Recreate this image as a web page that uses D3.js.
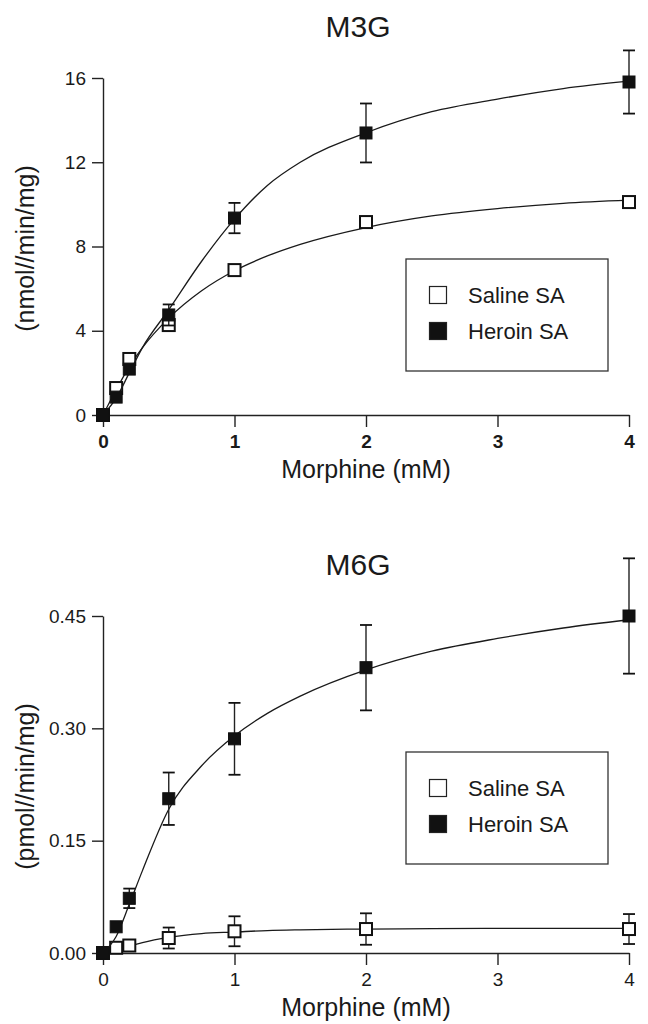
<!DOCTYPE html>
<html>
<head>
<meta charset="utf-8">
<script src="https://cdn.jsdelivr.net/npm/d3@7"></script>
<style>
  body { margin: 0; background: #fff; }
  svg { display: block; font-family: "Liberation Sans", Arial, Helvetica, sans-serif; }
  .axis path, .axis line { stroke: #222; stroke-width: 1.4; }
  .axis text { fill: #1a1a1a; font-size: 19px; }
</style>
</head>
<body>
<svg id="chart" width="648" height="1024"></svg>
<script>
// morphine concentrations (mM)
var doses = [0, 0.1, 0.2, 0.5, 1, 2, 4];
var xTicks = [0, 1, 2, 3, 4];
var seriesNames = ['Saline SA', 'Heroin SA'];

// M3G (nmol/min/mg), means and SEM
var m3gSaline = [0, 1.28, 2.66, 4.27, 6.88, 9.16, 10.11];
var m3gSalineErr = [0, 0, 0, 0.15, 0, 0, 0];
var m3gHeroin = [0, 0.85, 2.18, 4.75, 9.35, 13.39, 15.81];
var m3gHeroinErr = [0, 0, 0, 0.5, 0.72, 1.4, 1.5];
var m3gTicks = [0, 4, 8, 12, 16];

// M6G (pmol/min/mg), means and SEM
var m6gSaline = [0, 0.007, 0.01, 0.02, 0.029, 0.032, 0.032];
var m6gSalineErr = [0, 0, 0, 0.014, 0.02, 0.021, 0.02];
var m6gHeroin = [0, 0.035, 0.073, 0.206, 0.286, 0.381, 0.45];
var m6gHeroinErr = [0, 0, 0.013, 0.035, 0.048, 0.057, 0.077];
var m6gTicks = [0, 0.15, 0.30, 0.45];

// fitted curves
var fitDoses = [0, 0.1, 0.2, 0.3, 0.5, 0.75, 1, 1.25, 1.5, 2, 2.5, 3, 3.5, 4];
var m3gSalineFit = [0, 1.2, 2.3, 3.2, 4.6, 5.9, 6.85, 7.55, 8.1, 8.9, 9.45, 9.8, 10.05, 10.2];
var m3gHeroinFit = [0, 0.8, 2.0, 3.2, 5.0, 7.3, 9.3, 10.9, 12.0, 13.4, 14.4, 15.0, 15.5, 15.85];
var m6gSalineFit = [0, 0.004, 0.009, 0.014, 0.021, 0.026, 0.028, 0.030, 0.031, 0.032, 0.0325, 0.033, 0.033, 0.033];
var m6gHeroinFit = [0, 0.022, 0.065, 0.11, 0.192, 0.25, 0.29, 0.32, 0.343, 0.378, 0.403, 0.42, 0.434, 0.445];

var svg = d3.select('#chart');

function drawPanel(opts) {
    var g = svg.append('g');

    var x = d3.scaleLinear().domain([0, 4]).range([103, 629]);
    var y = d3.scaleLinear().domain([0, opts.yMax]).range([opts.bottom, opts.top]);

    // axes
    var xAxis = g.append('g')
        .attr('class', 'axis')
        .attr('transform', 'translate(0,' + opts.bottom + ')')
        .call(d3.axisBottom(x).tickValues(xTicks).tickSize(12).tickSizeOuter(0).tickPadding(8)
            .tickFormat(d3.format('d')));
    xAxis.selectAll('text').style('font-weight', opts.boldX ? 'bold' : 'normal');

    g.append('g')
        .attr('class', 'axis')
        .attr('transform', 'translate(103,0)')
        .call(d3.axisLeft(y).tickValues(opts.yTicks).tickSize(11).tickSizeOuter(0).tickPadding(6)
            .tickFormat(d3.format(opts.yFormat)));

    // title and axis labels
    g.append('text')
        .attr('x', 358).attr('y', opts.top - 41)
        .attr('text-anchor', 'middle')
        .style('font-size', '30px').style('fill', '#1a1a1a')
        .text(opts.title);

    g.append('text')
        .attr('x', 366).attr('y', opts.bottom + 63)
        .attr('text-anchor', 'middle')
        .style('font-size', '25px').style('fill', '#1a1a1a')
        .text('Morphine (mM)');

    g.append('text')
        .attr('transform', 'translate(34,' + ((opts.top + opts.bottom) / 2 + 2) + ') rotate(-90)')
        .attr('text-anchor', 'middle')
        .style('font-size', '25px').style('fill', '#1a1a1a')
        .text(opts.yLabel);

    var line = d3.line()
        .x(function(d) { return x(d[0]); })
        .y(function(d) { return y(d[1]); })
        .curve(d3.curveMonotoneX);

    opts.series.forEach(function(s) {
        // fitted curve
        g.append('path')
            .datum(d3.zip(fitDoses, s.fit))
            .attr('d', line)
            .attr('fill', 'none')
            .attr('stroke', '#1a1a1a')
            .attr('stroke-width', 1.3);

        var pts = doses.map(function(dose, i) {
            return { dose: dose, v: s.values[i], err: s.errs[i] };
        });
        var withErr = pts.filter(function(d) { return d.err > 0; });

        // error bars
        g.selectAll(null)
            .data(withErr)
            .enter()
            .append('line')
                .attr('x1', function(d) { return x(d.dose); })
                .attr('x2', function(d) { return x(d.dose); })
                .attr('y1', function(d) { return y(d.v - d.err); })
                .attr('y2', function(d) { return y(d.v + d.err); })
                .attr('stroke', '#222')
                .attr('stroke-width', 1.4);

        [-1, 1].forEach(function(sign) {
            g.selectAll(null)
                .data(withErr)
                .enter()
                .append('line')
                    .attr('x1', function(d) { return x(d.dose) - 6; })
                    .attr('x2', function(d) { return x(d.dose) + 6; })
                    .attr('y1', function(d) { return y(d.v + sign * d.err); })
                    .attr('y2', function(d) { return y(d.v + sign * d.err); })
                    .attr('stroke', '#111')
                    .attr('stroke-width', 1.8);
        });

        // markers
        g.selectAll(null)
            .data(pts)
            .enter()
            .append('rect')
                .attr('x', function(d) { return x(d.dose) - 6; })
                .attr('y', function(d) { return y(d.v) - 6; })
                .attr('width', 12)
                .attr('height', 12)
                .attr('fill', s.filled ? '#111' : '#fff')
                .attr('stroke', '#111')
                .attr('stroke-width', s.filled ? 1 : 2);
    });

    // legend
    var lg = g.append('g').attr('transform', 'translate(406,' + opts.legendTop + ')');
    lg.append('rect')
        .attr('width', 202).attr('height', 112)
        .attr('fill', '#fff')
        .attr('stroke', '#333')
        .attr('stroke-width', 1.3);

    lg.selectAll('.item')
        .data(seriesNames)
        .enter()
        .append('g')
            .attr('class', 'item')
            .attr('transform', function(d, i) { return 'translate(0,' + (36 + i * 36) + ')'; })
            .each(function(d, i) {
                var it = d3.select(this);
                it.append('rect')
                    .attr('x', 23.5).attr('y', -8.5)
                    .attr('width', 17).attr('height', 17)
                    .attr('fill', i === 1 ? '#111' : '#fff')
                    .attr('stroke', '#222')
                    .attr('stroke-width', 1.2);
                it.append('text')
                    .attr('x', 62).attr('y', 7.5)
                    .style('font-size', '22px').style('fill', '#1a1a1a')
                    .text(d);
            });
}

drawPanel({
    title: 'M3G', yLabel: '(nmol//min/mg)',
    top: 78, bottom: 415, yMax: 16, yTicks: m3gTicks, yFormat: 'd',
    boldX: true, legendTop: 259,
    series: [
        { values: m3gSaline, errs: m3gSalineErr, fit: m3gSalineFit, filled: false },
        { values: m3gHeroin, errs: m3gHeroinErr, fit: m3gHeroinFit, filled: true }
    ]
});

drawPanel({
    title: 'M6G', yLabel: '(pmol//min/mg)',
    top: 616, bottom: 953, yMax: 0.45, yTicks: m6gTicks, yFormat: '.2f',
    boldX: false, legendTop: 752,
    series: [
        { values: m6gSaline, errs: m6gSalineErr, fit: m6gSalineFit, filled: false },
        { values: m6gHeroin, errs: m6gHeroinErr, fit: m6gHeroinFit, filled: true }
    ]
});
</script>
</body>
</html>
